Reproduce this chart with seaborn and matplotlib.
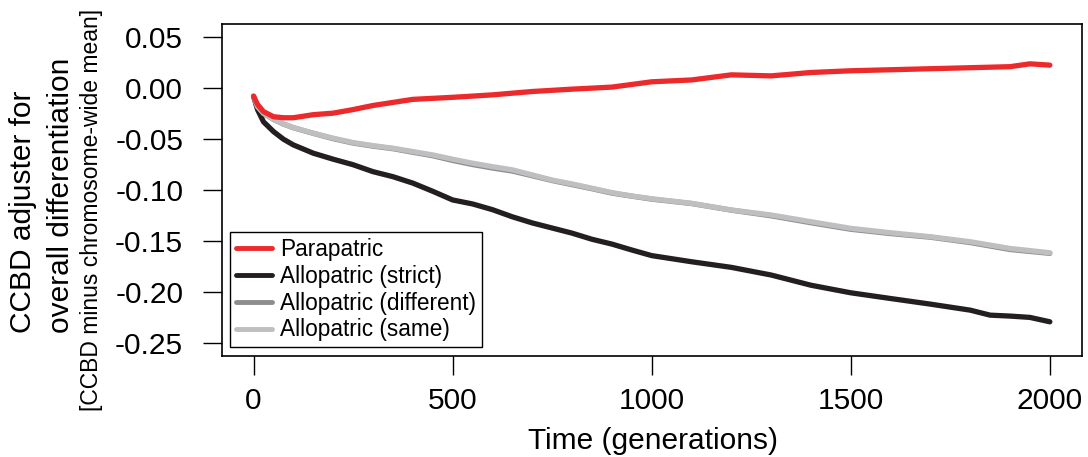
import numpy as np
import pandas as pd
import matplotlib
matplotlib.use("Agg")
import matplotlib.pyplot as plt
import seaborn as sns

# ---- data ----
gen_red = [0, 10, 25, 50, 75, 100, 150, 200, 250, 300, 350, 400, 450, 500,
           600, 700, 800, 900, 1000, 1100, 1200, 1300, 1400, 1500, 1600,
           1700, 1800, 1900, 1950, 2000]
parapatric = [-0.008, -0.016, -0.023, -0.028, -0.029, -0.029, -0.026, -0.0245,
              -0.021, -0.017, -0.014, -0.011, -0.010, -0.009, -0.0066, -0.0033,
              -0.001, 0.001, 0.0062, 0.008, 0.013, 0.012, 0.0153, 0.017, 0.018,
              0.019, 0.020, 0.021, 0.0238, 0.0225]

gen_black = [0, 10, 25, 50, 75, 100, 150, 200, 250, 300, 350, 400, 450, 500,
             550, 600, 650, 700, 750, 800, 850, 900, 950, 1000, 1100, 1200,
             1300, 1400, 1500, 1600, 1700, 1800, 1850, 1900, 1950, 2000]
allo_strict = [-0.008, -0.021, -0.033, -0.0425, -0.050, -0.0556, -0.0637,
               -0.0696, -0.075, -0.0818, -0.0867, -0.093, -0.101, -0.1095,
               -0.1134, -0.119, -0.126, -0.132, -0.137, -0.142, -0.148, -0.1527,
               -0.1585, -0.164, -0.170, -0.1755, -0.183, -0.193, -0.2004,
               -0.206, -0.2115, -0.2174, -0.2223, -0.2232, -0.2245, -0.2288]

gen_gray = [0, 10, 25, 50, 75, 100, 150, 200, 250, 300, 350, 400, 450, 500,
            550, 600, 650, 700, 750, 800, 850, 900, 950, 1000, 1100, 1200,
            1300, 1400, 1500, 1600, 1700, 1800, 1900, 2000]
allo_same = [-0.008, -0.018, -0.0245, -0.0304, -0.035, -0.0386, -0.0441,
             -0.049, -0.0533, -0.0563, -0.0588, -0.0621, -0.0654, -0.0696,
             -0.0735, -0.0769, -0.080, -0.085, -0.090, -0.0938, -0.098,
             -0.1023, -0.1056, -0.1083, -0.1128, -0.1193, -0.1242, -0.1308,
             -0.1373, -0.1416, -0.1455, -0.1504, -0.157, -0.1612]
allo_diff = [-0.008, -0.018, -0.0248, -0.0306, -0.0352, -0.0388, -0.0443,
             -0.0495, -0.0538, -0.0568, -0.0593, -0.0628, -0.0662, -0.0708,
             -0.0748, -0.0782, -0.0812, -0.0858, -0.0905, -0.0945, -0.0985,
             -0.1028, -0.1058, -0.1087, -0.1130, -0.1195, -0.1250, -0.1318,
             -0.1382, -0.1424, -0.1460, -0.1512, -0.1580, -0.1618]

labels = ["Parapatric", "Allopatric (strict)", "Allopatric (different)",
          "Allopatric (same)"]
colors = ["#ec2a2c", "#231f20", "#8d8d8f", "#bfbfc1"]
xticks = [0, 500, 1000, 1500, 2000]
yticks = [0.05, 0.00, -0.05, -0.10, -0.15, -0.20, -0.25]
ytick_labels = ["0.05", "0.00", "-0.05", "-0.10", "-0.15", "-0.20", "-0.25"]

# ---- style ----
sns.set_style("ticks")
plt.rcParams["font.family"] = ["Liberation Sans", "DejaVu Sans"]
plt.rcParams["text.color"] = "black"
plt.rcParams["axes.labelcolor"] = "black"
plt.rcParams["xtick.color"] = "black"
plt.rcParams["ytick.color"] = "black"

fig = plt.figure(figsize=(10.88, 4.57), dpi=100)
ax = fig.add_axes([221.7 / 1088, 1 - 355.7 / 457,
                   (1081.7 - 221.7) / 1088, (355.7 - 24.3) / 457])

series = {
    labels[1]: (gen_black, allo_strict),
    labels[2]: (gen_gray, allo_diff),
    labels[3]: (gen_gray, allo_same),
    labels[0]: (gen_red, parapatric),
}
order = [labels[1], labels[2], labels[3], labels[0]]
for lab in order:
    g, v = series[lab]
    df = pd.DataFrame({"gen": g, "val": v})
    sns.lineplot(data=df, x="gen", y="val", ax=ax, color=colors[labels.index(lab)],
                 lw=3.8, solid_capstyle="round", solid_joinstyle="round",
                 label=lab, estimator=None, sort=False)

ax.set_xlim(-80, 2080)
ax.set_ylim(-0.262, 0.0625)
ax.set_xticks(xticks)
ax.set_xticklabels([str(t) for t in xticks])
ax.set_yticks(yticks)
ax.set_yticklabels(ytick_labels)
ax.set_xlabel("")
ax.set_ylabel("")

for s in ax.spines.values():
    s.set_visible(True)
    s.set_linewidth(1.2)
    s.set_color("black")

ax.tick_params(axis="both", direction="out", length=13.7, width=1.0,
               color="black", labelsize=21.5, labelcolor="black")
ax.tick_params(axis="y", pad=14)
ax.tick_params(axis="x", pad=9)

# legend in the same order as the reference
handles, labs = ax.get_legend_handles_labels()
hmap = dict(zip(labs, handles))
leg = ax.legend([hmap[l] for l in labels], labels, loc="lower left",
                bbox_to_anchor=(0.0097, 0.026), borderaxespad=0,
                fontsize=16.3, frameon=True, fancybox=False,
                edgecolor="black", framealpha=1, handlelength=1.6,
                handletextpad=0.35, labelspacing=0.17, borderpad=0.25)
leg.get_frame().set_linewidth(1.0)
for t in leg.get_texts():
    t.set_color("black")
for h in leg.get_lines():
    h.set_linewidth(3.5)

fig.text(653 / 1088, 1 - 441 / 457, "Time (generations)", ha="center",
         va="center", fontsize=21.5, color="black")
fig.text(23 / 1088, 1 - 333 / 457, "CCBD adjuster for", rotation=90,
         ha="center", va="bottom", fontsize=21.5, color="black")
fig.text(61 / 1088, 1 - 333 / 457, "overall differentiation", rotation=90,
         ha="center", va="bottom", fontsize=21.5, color="black")
fig.text(92 / 1088, 1 - 210 / 457, "[CCBD minus chromosome-wide mean]",
         rotation=90, ha="center", va="center", fontsize=16.5, color="black")

fig.savefig("out.png", dpi=100)
